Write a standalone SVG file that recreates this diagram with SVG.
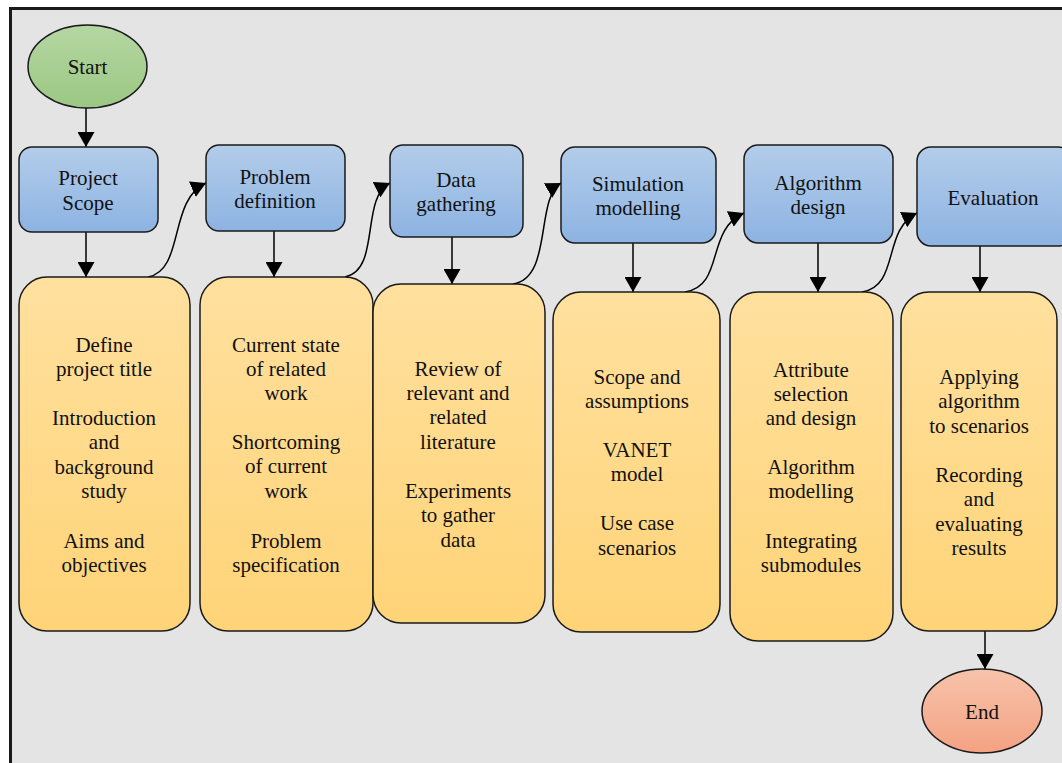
<svg xmlns="http://www.w3.org/2000/svg" width="1062" height="763" viewBox="0 0 1062 763">
  <defs>
    <linearGradient id="gBlue" x1="0" y1="0" x2="0" y2="1">
      <stop offset="0" stop-color="#b3cdea"/>
      <stop offset="1" stop-color="#8db3e2"/>
    </linearGradient>
    <linearGradient id="gYellow" x1="0" y1="0" x2="0" y2="1">
      <stop offset="0" stop-color="#ffe09e"/>
      <stop offset="1" stop-color="#ffd478"/>
    </linearGradient>
    <linearGradient id="gGreen" x1="0" y1="0" x2="0" y2="1">
      <stop offset="0" stop-color="#b5d7a3"/>
      <stop offset="1" stop-color="#9bc783"/>
    </linearGradient>
    <linearGradient id="gRed" x1="0" y1="0" x2="0" y2="1">
      <stop offset="0" stop-color="#f7c3ab"/>
      <stop offset="1" stop-color="#f4a282"/>
    </linearGradient>
    <marker id="arrow" viewBox="0 0 15 17" refX="15" refY="8.5" markerWidth="15" markerHeight="17" markerUnits="userSpaceOnUse" orient="auto">
      <path d="M0,0 L15,8.5 L0,17 Z" fill="#000"/>
    </marker>
    <style>
      .frame { fill: #e4e4e4; stroke: #1a1a1a; stroke-width: 3; }
      .step { fill: url(#gBlue); stroke: #1a1a1a; stroke-width: 1.5; }
      .task { fill: url(#gYellow); stroke: #1a1a1a; stroke-width: 1.5; }
      .start { fill: url(#gGreen); stroke: #1a1a1a; stroke-width: 1.5; }
      .end { fill: url(#gRed); stroke: #1a1a1a; stroke-width: 1.5; }
      .edge { fill: none; stroke: #000; stroke-width: 1.5; marker-end: url(#arrow); }
      text { font-family: "Liberation Serif", "Times New Roman", serif; font-size: 21px; fill: #111; text-anchor: middle; }
    </style>
  </defs>

  <rect class="frame" x="10.5" y="8.5" width="1060" height="770"/>

  <g id="connectors">
    <line class="edge" x1="86" y1="108" x2="86" y2="147"/>
    <line class="edge" x1="86" y1="232" x2="86" y2="277"/>
    <line class="edge" x1="274" y1="231" x2="274" y2="277"/>
    <line class="edge" x1="452" y1="237" x2="452" y2="284"/>
    <line class="edge" x1="633" y1="243" x2="633" y2="292"/>
    <line class="edge" x1="818" y1="243" x2="818" y2="292"/>
    <line class="edge" x1="980" y1="246" x2="980" y2="292"/>
    <line class="edge" x1="985" y1="631" x2="985" y2="669"/>
    <path class="edge" d="M148,277 C185,270 168,200 206,183"/>
    <path class="edge" d="M345,277 C381,270 360,198 390,183"/>
    <path class="edge" d="M513,284 C553,278 535,198 561,183"/>
    <path class="edge" d="M685,292 C725,286 705,230 744,213"/>
    <path class="edge" d="M862,292 C900,286 882,230 917,213"/>
  </g>

  <g id="start">
    <ellipse class="start" cx="87.5" cy="66.5" rx="59.5" ry="41.5"/>
    <text x="87.5" y="74">Start</text>
  </g>

  <g id="project-scope">
    <rect class="step" x="19" y="147" width="139" height="85" rx="13"/>
    <text x="88" y="185">Project</text>
    <text x="88" y="210">Scope</text>
  </g>
  <g id="problem-definition">
    <rect class="step" x="206" y="145" width="139" height="86" rx="13"/>
    <text x="275" y="184">Problem</text>
    <text x="275" y="208">definition</text>
  </g>
  <g id="data-gathering">
    <rect class="step" x="390" y="145" width="133" height="92" rx="13"/>
    <text x="456" y="187">Data</text>
    <text x="456" y="211">gathering</text>
  </g>
  <g id="simulation-modelling">
    <rect class="step" x="561" y="147" width="155" height="96" rx="14"/>
    <text x="638" y="191">Simulation</text>
    <text x="638" y="215">modelling</text>
  </g>
  <g id="algorithm-design">
    <rect class="step" x="744" y="145" width="149" height="98" rx="14"/>
    <text x="818" y="190">Algorithm</text>
    <text x="818" y="214">design</text>
  </g>
  <g id="evaluation">
    <rect class="step" x="917" y="147" width="155" height="99" rx="14"/>
    <text x="993" y="205">Evaluation</text>
  </g>

  <g id="task-scope">
    <rect class="task" x="19" y="277" width="171" height="354" rx="28"/>
    <text x="104" y="352">Define</text>
    <text x="104" y="376">project title</text>
    <text x="104" y="425">Introduction</text>
    <text x="104" y="449">and</text>
    <text x="104" y="474">background</text>
    <text x="104" y="498">study</text>
    <text x="104" y="548">Aims and</text>
    <text x="104" y="572">objectives</text>
  </g>
  <g id="task-problem">
    <rect class="task" x="200" y="277" width="173" height="354" rx="28"/>
    <text x="286" y="352">Current state</text>
    <text x="286" y="376">of related</text>
    <text x="286" y="400">work</text>
    <text x="286" y="449">Shortcoming</text>
    <text x="286" y="473">of current</text>
    <text x="286" y="498">work</text>
    <text x="286" y="548">Problem</text>
    <text x="286" y="572">specification</text>
  </g>
  <g id="task-data">
    <rect class="task" x="373" y="284" width="172" height="339" rx="28"/>
    <text x="458" y="376">Review of</text>
    <text x="458" y="400">relevant and</text>
    <text x="458" y="424">related</text>
    <text x="458" y="449">literature</text>
    <text x="458" y="498">Experiments</text>
    <text x="458" y="522">to gather</text>
    <text x="458" y="547">data</text>
  </g>
  <g id="task-simulation">
    <rect class="task" x="553" y="292" width="167" height="340" rx="28"/>
    <text x="637" y="384">Scope and</text>
    <text x="637" y="408">assumptions</text>
    <text x="637" y="457">VANET</text>
    <text x="637" y="481">model</text>
    <text x="637" y="530">Use case</text>
    <text x="637" y="555">scenarios</text>
  </g>
  <g id="task-algorithm">
    <rect class="task" x="730" y="292" width="163" height="349" rx="28"/>
    <text x="811" y="377">Attribute</text>
    <text x="811" y="401">selection</text>
    <text x="811" y="425">and design</text>
    <text x="811" y="474">Algorithm</text>
    <text x="811" y="498">modelling</text>
    <text x="811" y="548">Integrating</text>
    <text x="811" y="572">submodules</text>
  </g>
  <g id="task-evaluation">
    <rect class="task" x="901" y="292" width="156" height="339" rx="28"/>
    <text x="979" y="384">Applying</text>
    <text x="979" y="408">algorithm</text>
    <text x="979" y="433">to scenarios</text>
    <text x="979" y="482">Recording</text>
    <text x="979" y="506">and</text>
    <text x="979" y="531">evaluating</text>
    <text x="979" y="555">results</text>
  </g>

  <g id="end">
    <ellipse class="end" cx="982" cy="711" rx="60" ry="42"/>
    <text x="982" y="719">End</text>
  </g>
</svg>
